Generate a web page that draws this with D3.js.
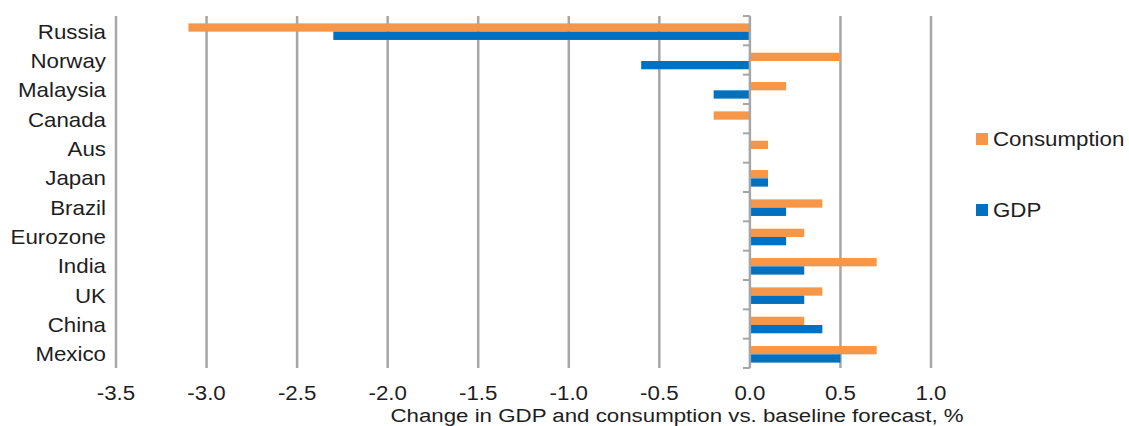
<!DOCTYPE html>
<html>
<head>
<meta charset="utf-8">
<script src="https://cdn.jsdelivr.net/npm/d3@7/dist/d3.min.js"></script>
<style>
  html, body { margin: 0; padding: 0; background: #fff; }
  text { font-family: "Liberation Sans", Arial, sans-serif; fill: #1e1e1e; }
</style>
</head>
<body>
<svg id="chart" width="1129" height="426"></svg>
<script>
// Countries, top to bottom
const countries = ["Russia", "Norway", "Malaysia", "Canada", "Aus", "Japan",
                   "Brazil", "Eurozone", "India", "UK", "China", "Mexico"];
// Change vs. baseline forecast, %
const consumption = [-3.1, 0.5, 0.2, -0.2, 0.1, 0.1, 0.4, 0.3, 0.7, 0.4, 0.3, 0.7];
const gdp         = [-2.3, -0.6, -0.2, 0.0, 0.0, 0.1, 0.2, 0.2, 0.3, 0.3, 0.4, 0.5];
const seriesNames = ["Consumption", "GDP"];
const xTicks = [-3.5, -3.0, -2.5, -2.0, -1.5, -1.0, -0.5, 0.0, 0.5, 1.0];
const axisTitle = "Change in GDP and consumption vs. baseline forecast, %";

const colors = { Consumption: "#F79646", GDP: "#0070C0" };
const gridColor = "#a6a6a6";
const stretch = 1.15; // horizontal widening of the lettering

const svg = d3.select("#chart");

const x = d3.scaleLinear().domain([-3.5, 1.0]).range([116, 931]);
const y = d3.scaleBand().domain(countries).range([16, 368]);
const ySub = d3.scaleBand().domain(seriesNames).range([0, y.bandwidth()]).paddingOuter(0.77);

const rows = countries.map((c, i) => ({ country: c, Consumption: consumption[i], GDP: gdp[i] }));

// Vertical gridlines
svg.append("g").selectAll("line")
  .data(xTicks.filter(t => t !== 0))
  .join("line")
  .attr("x1", d => x(d)).attr("x2", d => x(d))
  .attr("y1", 16).attr("y2", 368)
  .attr("stroke", gridColor).attr("stroke-width", 2.5);

// Bars
const groups = svg.append("g").selectAll("g")
  .data(rows).join("g")
  .attr("transform", d => `translate(0,${y(d.country) + 1})`);

groups.selectAll("rect")
  .data(d => seriesNames.map(s => ({ s, v: d[s] })).filter(e => e.v !== 0))
  .join("rect")
  .attr("x", e => x(Math.min(0, e.v)))
  .attr("width", e => Math.abs(x(e.v) - x(0)))
  .attr("y", e => ySub(e.s))
  .attr("height", ySub.bandwidth())
  .attr("fill", e => colors[e.s]);

// Zero axis with category tick marks
const zero = x(0);
svg.append("line")
  .attr("x1", zero).attr("x2", zero).attr("y1", 16).attr("y2", 368)
  .attr("stroke", gridColor).attr("stroke-width", 2.5);
const bounds = countries.map(c => y(c)).concat([y.range()[1]]);
svg.append("g").selectAll("line")
  .data(bounds).join("line")
  .attr("x1", zero - 7).attr("x2", zero)
  .attr("y1", d => d).attr("y2", d => d)
  .attr("stroke", gridColor).attr("stroke-width", 2);

// Helper: text widened horizontally around its anchor
function wideText(sel, xPos, yPos, str, size, anchor, sx = stretch) {
  return sel.append("text")
    .attr("transform", `translate(${xPos},${yPos}) scale(${sx},1)`)
    .attr("text-anchor", anchor)
    .attr("font-size", size)
    .text(str);
}

// Category labels
countries.forEach(c => {
  wideText(svg, 106, y(c) + y.bandwidth() / 2 + 8, c, 19.4, "end");
});

// X tick labels (plain hyphen for the minus sign)
const fmt = t => d3.format(".1f")(t).replace("\u2212", "-");
xTicks.forEach(t => {
  wideText(svg, x(t), 400, fmt(t), 19.4, "middle");
});

// Axis title
wideText(svg, 677, 422, axisTitle, 18.8, "middle", stretch * 19.4 / 18.8);

// Legend
const legend = [
  { name: "Consumption", yC: 139 },
  { name: "GDP", yC: 210 }
];
legend.forEach(l => {
  svg.append("rect")
    .attr("x", 976).attr("y", l.yC - 6).attr("width", 12).attr("height", 12)
    .attr("fill", colors[l.name]);
  wideText(svg, 993, l.yC + 7, l.name, 19.4, "start");
});
</script>
</body>
</html>
